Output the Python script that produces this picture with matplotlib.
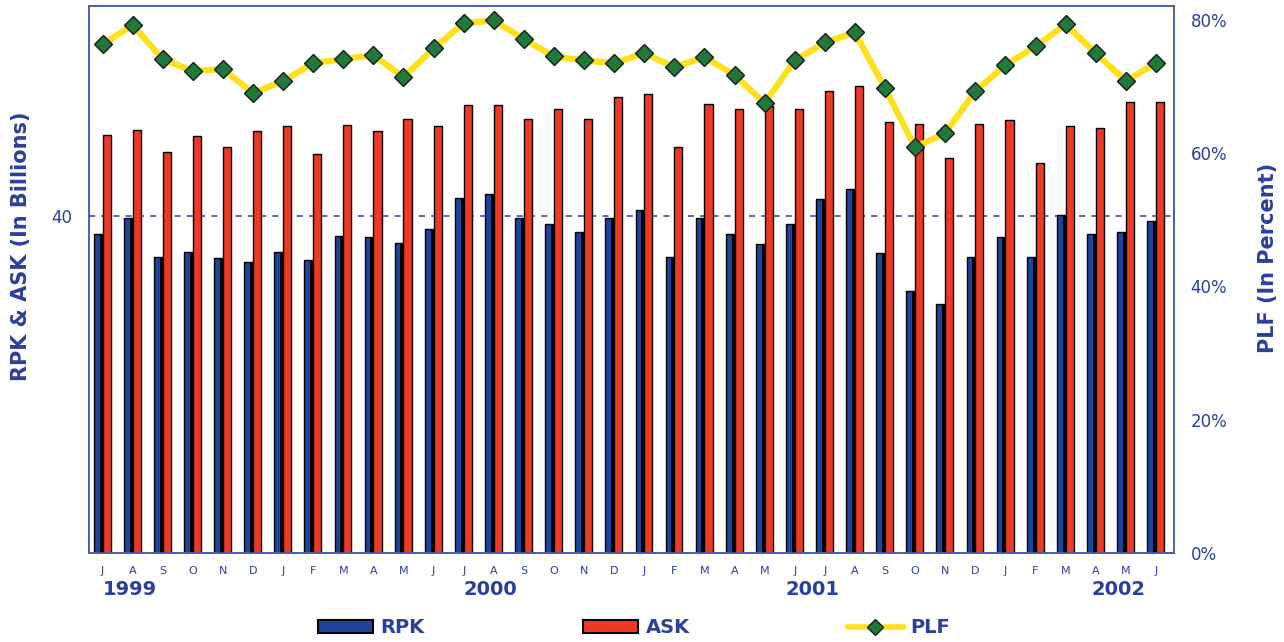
import matplotlib
matplotlib.use("Agg")
import matplotlib.pyplot as plt
from matplotlib.lines import Line2D
from matplotlib.patches import Patch
import numpy as np

months = ["J", "A", "S", "O", "N", "D", "J", "F", "M", "A", "M", "J",
          "J", "A", "S", "O", "N", "D", "J", "F", "M", "A", "M", "J",
          "J", "A", "S", "O", "N", "D", "J", "F", "M", "A", "M", "J"]
years = ["1999", "2000", "2001", "2002"]
year_pos = [0.9, 12.9, 23.6, 33.75]

# RPK & ASK in billions, PLF in percent (Jul 1999 - Jun 2002)
rpk = [37.9, 39.8, 35.2, 35.8, 35.0, 34.6, 35.8, 34.8, 37.7, 37.5, 36.9, 38.5,
       42.2, 42.7, 39.8, 39.1, 38.1, 39.8, 40.8, 35.2, 39.8, 37.9, 36.7, 39.1,
       42.1, 43.3, 35.6, 31.1, 29.6, 35.2, 37.5, 35.2, 40.2, 37.9, 38.1, 39.4]
ask = [49.7, 50.3, 47.6, 49.5, 48.2, 50.1, 50.7, 47.4, 50.9, 50.1, 51.6, 50.7,
       53.2, 53.2, 51.6, 52.8, 51.6, 54.2, 54.5, 48.2, 53.4, 52.8, 53.1, 52.8,
       54.9, 55.5, 51.2, 51.0, 47.0, 51.0, 51.4, 46.4, 50.7, 50.5, 53.6, 53.6]
plf = [76.3, 79.2, 74.1, 72.3, 72.6, 69.0, 70.8, 73.5, 74.1, 74.7, 71.4, 75.7,
       79.5, 79.9, 77.1, 74.5, 73.9, 73.5, 75.0, 72.9, 74.4, 71.7, 67.5, 73.9,
       76.6, 78.1, 69.7, 60.9, 63.0, 69.3, 73.2, 76.0, 79.3, 75.0, 70.8, 73.5]

navy = "#2B3F9E"
blue = "#1C45A0"
red = "#EE3A22"
yellow = "#FFE01A"
green = "#1F7A3A"

fig = plt.figure(figsize=(12.84, 6.42), dpi=100)
ax = fig.add_axes([0.0693, 0.1386, 0.845, 0.852])
x = np.arange(len(months))
w = 0.29

# blue bar with a dark strip on its right side, red bar next to it
ax.bar(x - w, rpk, width=w, align="edge", color=blue, edgecolor="black", lw=1.0, zorder=2)
ax.bar(x - 0.1, rpk, width=0.1, align="edge", color="black", lw=0, zorder=3)
ax.bar(x, ask, width=0.27, align="edge", color=red, edgecolor="black", lw=1.0, zorder=3)

ax.axhline(40, color=navy, ls=(0, (4, 4)), lw=1.1, zorder=1)

ax.set_xlim(-0.45, 35.6)
ax.set_ylim(0, 65.0)
ax.set_yticks([40])
ax.set_yticklabels(["40"], color=navy, fontsize=12)
ax.set_xticks(x)
ax.set_xticklabels(months, color=navy, fontsize=8)
ax.tick_params(length=0, pad=9)
ax.tick_params(axis="y", pad=12)
for s in ax.spines.values():
    s.set_color("#4A5DB8")
    s.set_linewidth(1.2)
for xp, yr in zip(year_pos, years):
    ax.text(xp, -4.3, yr, ha="center", va="center", color=navy,
            fontsize=14, fontweight="bold")
ax.set_ylabel("RPK & ASK (In Billions)", color=navy, fontsize=15,
              fontweight="bold")
ax.yaxis.set_label_coords(-0.053, 0.56)

ax2 = ax.twinx()
ax2.plot(x, plf, color=yellow, lw=4.5, zorder=4, marker="D", markersize=9.5,
         markerfacecolor=green, markeredgecolor="#1a1a1a", markeredgewidth=1)
ax2.set_ylim(0, 82.06)
ax2.set_yticks([0, 20, 40, 60, 80])
ax2.set_yticklabels(["0%", "20%", "40%", "60%", "80%"], color=navy, fontsize=12)
ax2.tick_params(length=0, pad=12)
for s in ax2.spines.values():
    s.set_color("#4A5DB8")
    s.set_linewidth(1.2)
ax2.set_ylabel("PLF (In Percent)", color=navy, fontsize=15, fontweight="bold")
ax2.yaxis.set_label_coords(1.077, 0.54)

handles = [Patch(facecolor=blue, edgecolor="black", lw=1.5, label="RPK"),
           Patch(facecolor=red, edgecolor="black", lw=1.5, label="ASK"),
           Line2D([0], [0], color=yellow, lw=4, marker="D", markersize=8,
                  markerfacecolor=green, markeredgecolor="#1a1a1a", label="PLF")]
leg = fig.legend(handles=handles, loc="center", bbox_to_anchor=(0.494, 0.022),
                 ncol=3, frameon=False, handlelength=2.8, handleheight=0.7,
                 columnspacing=8.15, handletextpad=0.4,
                 prop={"size": 14, "weight": "bold"})
for t in leg.get_texts():
    t.set_color(navy)

fig.savefig("out.png", dpi=100)
